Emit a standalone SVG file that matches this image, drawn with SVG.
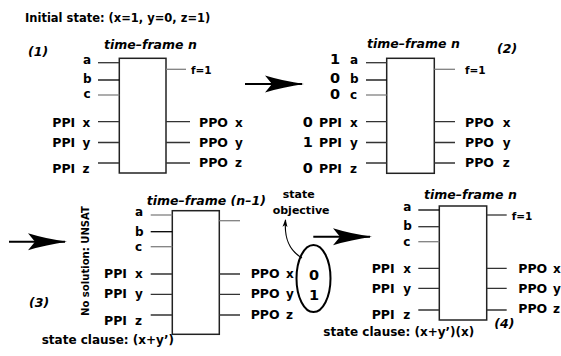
<svg xmlns="http://www.w3.org/2000/svg" width="561" height="356" viewBox="0 0 561 356">
  <style>
    text { font-family: "DejaVu Sans", "Liberation Sans", sans-serif; font-weight: bold; fill: #000; }
    .title { font-size: 11.5px; }
    .port { font-size: 12.5px; }
    .sig { font-size: 12px; }
    .val { font-size: 14.5px; }
    .tf { font-size: 12.5px; font-style: italic; }
    .tag { font-size: 12.5px; font-style: italic; }
    .out { font-size: 10.5px; }
    .note { font-size: 11px; }
    .side { font-size: 10.5px; }
    .clause { font-size: 12px; }
    .box { fill: #fff; stroke: #222; stroke-width: 1.5; }
    .pin { stroke: #333; stroke-width: 1.3; fill: none; }
    .pin.g { stroke: #808080; }
    .pin.k { stroke: #000; }
    .arrow { stroke: #000; stroke-width: 2; fill: none; marker-end: url(#bigHead); }
    .curve { stroke: #000; stroke-width: 1.2; fill: none; marker-end: url(#smallHead); }
    .ring { fill: none; stroke: #000; stroke-width: 2; }
  </style>
  <defs>
    <marker id="bigHead" markerUnits="userSpaceOnUse" markerWidth="40" markerHeight="20" viewBox="0 -10 40 20" refX="37" refY="0" orient="auto">
      <path d="M0,-8.5 Q18,-3 39,0 Q18,3 0,8.5 L7,0 Z" fill="#000"/>
    </marker>
    <marker id="smallHead" markerUnits="userSpaceOnUse" markerWidth="10" markerHeight="8" viewBox="0 -4 10 8" refX="7" refY="0" orient="auto">
      <path d="M0,-2.5 L8,0 L0,2.5 L2,0 Z" fill="#000"/>
    </marker>
  </defs>

  <text class="title" x="25" y="22">Initial state: (x=1, y=0, z=1)</text>

  <!-- frame 1: time-frame n -->
  <g id="frame1">
    <text class="tag" x="28" y="56">(1)</text>
    <text class="tf" x="104" y="49">time–frame n</text>
    <rect class="box" x="119.3" y="58.3" width="46.7" height="114.7"/>
    <path class="pin" d="M98,62.7H119.3"/>
    <path class="pin k" d="M98,80H119.3"/>
    <path class="pin g" d="M98,95H119.3"/>
    <path class="pin" d="M98,121.7H119.3M98,142.5H119.3M98,163H119.3"/>
    <path class="pin g" d="M166,69.3H186"/>
    <path class="pin" d="M166,121.7H190M166,142.5H190M166,163H190"/>
    <text class="sig" x="83" y="64">a</text>
    <text class="sig" x="83" y="83">b</text>
    <text class="sig" x="83.5" y="97.5">c</text>
    <text class="port" x="52.3" y="126.7">PPI</text><text class="sig" x="82.5" y="126.7">x</text>
    <text class="port" x="52.3" y="146.7">PPI</text><text class="sig" x="82.5" y="146.7">y</text>
    <text class="port" x="52.3" y="173.3">PPI</text><text class="sig" x="82.5" y="173.3">z</text>
    <text class="out" x="191" y="74">f=1</text>
    <text class="port" x="199" y="126.7">PPO</text><text class="sig" x="235" y="126.7">x</text>
    <text class="port" x="199" y="146.7">PPO</text><text class="sig" x="235" y="146.7">y</text>
    <text class="port" x="199" y="166.5">PPO</text><text class="sig" x="235" y="166.5">z</text>
  </g>

  <!-- frame 2: time-frame n with assigned values -->
  <g id="frame2">
    <text class="tag" x="497" y="53">(2)</text>
    <text class="tf" x="367" y="47.7">time–frame n</text>
    <rect class="box" x="386.7" y="58.3" width="47.6" height="115"/>
    <path class="pin" d="M366,62.7H386.7"/>
    <path class="pin k" d="M366,80H386.7"/>
    <path class="pin g" d="M366,95H386.7"/>
    <path class="pin" d="M366,121.7H386.7M366,142.5H386.7M366,163H386.7"/>
    <path class="pin g" d="M434.3,69.3H455"/>
    <path class="pin" d="M434.3,121.7H455M434.3,142.5H455M434.3,163H455"/>
    <text class="val" x="330" y="63.5">1</text><text class="sig" x="350" y="63.5">a</text>
    <text class="val" x="330" y="83">0</text><text class="sig" x="350" y="83">b</text>
    <text class="val" x="330" y="98.5">0</text><text class="sig" x="350" y="98.5">c</text>
    <text class="val" x="302.7" y="127">0</text><text class="port" x="319" y="127">PPI</text><text class="sig" x="350" y="127">x</text>
    <text class="val" x="302.7" y="147">1</text><text class="port" x="319" y="147">PPI</text><text class="sig" x="350" y="147">y</text>
    <text class="val" x="302.7" y="173.3">0</text><text class="port" x="319" y="173.3">PPI</text><text class="sig" x="350" y="173.3">z</text>
    <text class="out" x="465" y="74">f=1</text>
    <text class="port" x="465" y="127">PPO</text><text class="sig" x="502.7" y="127">x</text>
    <text class="port" x="465" y="147">PPO</text><text class="sig" x="502.7" y="147">y</text>
    <text class="port" x="465" y="167">PPO</text><text class="sig" x="502.7" y="167">z</text>
  </g>

  <!-- frame 3: time-frame (n-1) -->
  <g id="frame3">
    <text class="tag" x="29" y="306.7">(3)</text>
    <text class="side" transform="translate(89.3,316) rotate(-90)" textLength="110" lengthAdjust="spacingAndGlyphs">No solution: UNSAT</text>
    <text class="tf" x="146.7" y="205">time–frame (n–1)</text>
    <rect class="box" x="172.3" y="210.7" width="47" height="123.6"/>
    <path class="pin g" d="M150.7,215H172.3"/>
    <path class="pin k" d="M150.7,231.7H172.3"/>
    <path class="pin g" d="M150.7,246.7H172.3"/>
    <path class="pin" d="M150.7,274H172.3M150.7,294.3H172.3M150.7,315H172.3"/>
    <path class="pin g" d="M219.3,220.7H240"/>
    <path class="pin" d="M219.3,274H240M219.3,294.3H240M219.3,315H240"/>
    <text class="sig" x="135" y="215.7">a</text>
    <text class="sig" x="135" y="236">b</text>
    <text class="sig" x="135" y="250.7">c</text>
    <text class="port" x="104" y="278.3">PPI</text><text class="sig" x="135" y="278.3">x</text>
    <text class="port" x="104" y="298.3">PPI</text><text class="sig" x="135" y="298.3">y</text>
    <text class="port" x="104" y="325">PPI</text><text class="sig" x="135" y="325">z</text>
    <text class="port" x="250.7" y="278.3">PPO</text><text class="sig" x="286" y="278.3">x</text>
    <text class="port" x="250.7" y="298.3">PPO</text><text class="sig" x="286" y="298.3">y</text>
    <text class="port" x="250.7" y="319">PPO</text><text class="sig" x="286" y="319">z</text>
    <text class="clause" x="41.7" y="344">state clause: (x+y’)</text>
  </g>

  <!-- state objective on the PPO values of frame 3 -->
  <g id="objective">
    <ellipse class="ring" cx="313.5" cy="278.5" rx="17" ry="33.5"/>
    <text class="val" x="309" y="280">0</text>
    <text class="val" x="309" y="300">1</text>
    <text class="note" x="282.7" y="198.3">state</text>
    <text class="note" x="272.7" y="214.3">objective</text>
  </g>

  <!-- frame 4: time-frame n with learned clause -->
  <g id="frame4">
    <text class="tag" x="494.3" y="328">(4)</text>
    <text class="tf" x="424" y="199.3">time–frame n</text>
    <rect class="box" x="439.3" y="206" width="47.4" height="114"/>
    <path class="pin k" d="M418.3,210H439.3"/>
    <path class="pin" d="M418.3,226.7H439.3"/>
    <path class="pin g" d="M418.3,241.7H439.3"/>
    <path class="pin" d="M418.3,268.3H439.3M418.3,288.3H439.3M418.3,310H439.3"/>
    <path class="pin" d="M486.7,215H506.7"/>
    <path class="pin" d="M486.7,268.3H506.7M486.7,288.3H506.7M486.7,310H506.7"/>
    <text class="sig" x="403.3" y="210.7">a</text>
    <text class="sig" x="403.3" y="230">b</text>
    <text class="sig" x="403.3" y="246">c</text>
    <text class="port" x="371.7" y="273.3">PPI</text><text class="sig" x="403.3" y="273.3">x</text>
    <text class="port" x="371.7" y="292.7">PPI</text><text class="sig" x="403.3" y="292.7">y</text>
    <text class="port" x="371.7" y="319">PPI</text><text class="sig" x="403.3" y="319">z</text>
    <text class="out" x="511.7" y="220">f=1</text>
    <text class="port" x="518.3" y="273.3">PPO</text><text class="sig" x="553" y="273.3">x</text>
    <text class="port" x="518.3" y="292.7">PPO</text><text class="sig" x="553" y="292.7">y</text>
    <text class="port" x="518.3" y="313.3">PPO</text><text class="sig" x="553" y="313.3">z</text>
    <text class="clause" x="323.3" y="336">state clause: (x+y’)(x)</text>
  </g>

  <g id="connectors">
    <path class="arrow" d="M245,84H302"/>
    <path class="arrow" d="M9,241.7H65"/>
    <path class="arrow" d="M313.3,236.7H370"/>
    <path class="curve" d="M302,258C290,251 284,240 285.5,220"/>
  </g>
</svg>
